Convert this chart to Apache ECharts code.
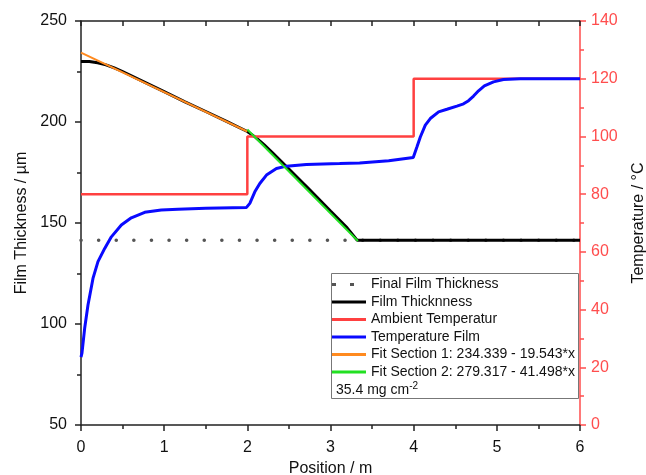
<!DOCTYPE html>
<html>
<head>
<meta charset="utf-8">
<script src="https://cdn.jsdelivr.net/npm/echarts@6/dist/echarts.min.js"></script>
<style>
  html, body { margin: 0; padding: 0; background: #fff; }
  #main { width: 646px; height: 475px; }
</style>
</head>
<body>
<div id="main"></div>
<script>
// film thickness (left axis, µm)
var filmPos = [0, 0.1, 0.2, 0.3, 0.4, 0.5, 0.75, 1, 1.25, 1.5, 1.75, 2, 2.1, 2.2, 2.3, 2.5, 2.75, 3, 3.2, 3.32, 6];
var filmThickness = [230, 229.9, 229.3, 228.3, 226.8, 225, 220, 215, 210, 205.2, 200.3, 195.3, 192.4, 188.8, 184.9, 176.7, 166.4, 155.9, 147.6, 141.5, 141.5];

var finalPos = [0, 6];
var finalThickness = [141.5, 141.5];

var fit1Pos = [0, 2];
var fit1Val = [234.3, 195.3];
var fit2Pos = [2, 3.33];
var fit2Val = [196.3, 141.1];

// temperatures (right axis, °C)
var ambientPos = [0, 2, 2, 4, 4, 6];
var ambientTemp = [80, 80, 100, 100, 120, 120];

var tempPos = [0, 0.012, 0.044, 0.084, 0.144, 0.204, 0.285, 0.365, 0.485, 0.605, 0.766, 0.965, 1.166, 1.5, 1.99, 2.03, 2.09, 2.15, 2.23, 2.35, 2.47, 2.71, 3.11, 3.35, 3.7, 3.995, 4.04, 4.08, 4.14, 4.2, 4.3, 4.4, 4.52, 4.6, 4.66, 4.72, 4.78, 4.85, 4.96, 5.08, 5.28, 6];
var tempFilm = [23.5, 25, 33.5, 41.6, 50.8, 56.6, 61.2, 65.2, 69.3, 71.8, 73.7, 74.5, 74.8, 75.1, 75.4, 76.8, 80.8, 83.7, 86.6, 88.9, 89.7, 90.3, 90.6, 90.8, 91.6, 92.7, 96.4, 99.8, 103.9, 106.2, 108.5, 109.4, 110.5, 111.3, 112.4, 114, 115.8, 117.5, 118.9, 119.7, 120, 120];

var xTicks = [0, 1, 2, 3, 4, 5, 6];
var leftTicks = [50, 100, 150, 200, 250];
var rightTicks = [0, 20, 40, 60, 80, 100, 120, 140];

function pairs(xs, ys) {
  return xs.map(function (x, i) { return [x, ys[i]]; });
}

var font = 'Liberation Sans, Arial, sans-serif';
var axisRed = '#ff4d4d';
var lineIcon = 'rect';
var dotIcon = 'path://M0,0h4v3h-4zM18,0h4v3h-4zM34,3';

var chart = echarts.init(document.getElementById('main'));
var option = {
  animation: false,
  backgroundColor: '#fff',
  textStyle: { fontFamily: font },
  grid: { left: 81, right: 66, top: 21, bottom: 50, outerBoundsMode: 'none' },
  xAxis: [
    {
      type: 'value',
      min: xTicks[0], max: xTicks[xTicks.length - 1], interval: 1,
      name: 'Position / m', nameLocation: 'middle', nameGap: 35,
      nameTextStyle: { fontSize: 16, color: '#111', fontFamily: font },
      axisLine: { lineStyle: { color: '#222', width: 1.5 } },
      axisTick: { inside: false, length: 6, lineStyle: { color: '#222', width: 1.5 } },
      minorTick: { show: true, splitNumber: 2, length: 4, lineStyle: { color: '#222', width: 1.5 } },
      axisLabel: { fontSize: 16, color: '#111', margin: 15, fontFamily: font },
      splitLine: { show: false }
    },
    {
      type: 'value', position: 'top',
      min: 0, max: 6, interval: 0.5,
      axisLine: { show: true, onZero: false, lineStyle: { color: '#222', width: 1.5 } },
      axisTick: { inside: true, length: 5, lineStyle: { color: '#222', width: 1.5 } },
      axisLabel: { show: false },
      splitLine: { show: false }
    }
  ],
  yAxis: [
    {
      type: 'value',
      min: leftTicks[0], max: leftTicks[leftTicks.length - 1], interval: 50,
      name: 'Film Thickness / µm', nameLocation: 'middle', nameGap: 48, nameRotate: 90,
      nameTextStyle: { fontSize: 16, color: '#111', fontFamily: font },
      axisLine: { show: true, onZero: false, lineStyle: { color: '#222', width: 1.5 } },
      axisTick: { show: true, length: 6, lineStyle: { color: '#222', width: 1.5 } },
      minorTick: { show: true, splitNumber: 2, length: 4, lineStyle: { color: '#222', width: 1.5 } },
      axisLabel: { fontSize: 16, color: '#111', margin: 14, fontFamily: font },
      splitLine: { show: false }
    },
    {
      type: 'value', position: 'right',
      min: rightTicks[0], max: rightTicks[rightTicks.length - 1], interval: 20,
      name: 'Temperature / °C', nameLocation: 'middle', nameGap: 51, nameRotate: 90,
      nameTextStyle: { fontSize: 16, color: '#111', fontFamily: font },
      axisLine: { show: true, onZero: false, lineStyle: { color: axisRed, width: 1.5 } },
      axisTick: { show: true, length: 6, lineStyle: { color: axisRed, width: 1.5 } },
      minorTick: { show: true, splitNumber: 2, length: 4, lineStyle: { color: axisRed, width: 1.5 } },
      axisLabel: { fontSize: 16, color: axisRed, margin: 11, fontFamily: font },
      splitLine: { show: false }
    }
  ],
  legend: {
    orient: 'vertical',
    left: 332, top: 277.5,
    itemWidth: 34, itemHeight: 3, itemGap: 3.5,
    itemTextGap: 1,
    symbolKeepAspect: false,
    padding: 0,
    itemStyle: { borderWidth: 0 },
    textStyle: { fontSize: 14, lineHeight: 14, color: '#111', fontFamily: font },
    data: [
      { name: 'Final Film Thickness', icon: dotIcon },
      { name: 'Film Thicknness', icon: lineIcon },
      { name: 'Ambient Temperatur', icon: lineIcon },
      { name: 'Temperature Film', icon: lineIcon },
      { name: 'Fit Section 1: 234.339 - 19.543*x', icon: lineIcon },
      { name: 'Fit Section 2: 279.317 - 41.498*x', icon: lineIcon }
    ]
  },
  graphic: [
    {
      type: 'rect', z: 100,
      shape: { x: 331.5, y: 273.5, width: 247, height: 125 },
      style: { fill: null, stroke: '#777', lineWidth: 1 }
    },
    {
      type: 'text', z: 101, left: 336, top: 381,
      style: {
        text: '{a|35.4 mg cm}{b|-2}',
        rich: {
          a: { fontSize: 14, fontFamily: font, fill: '#111' },
          b: { fontSize: 10, fontFamily: font, fill: '#111', verticalAlign: 'top', padding: [0, 0, 8, 0] }
        }
      }
    }
  ],
  series: [
    {
      name: 'Final Film Thickness', type: 'line', symbol: 'none',
      xAxisIndex: 0, yAxisIndex: 0, z: 1,
      data: pairs(finalPos, finalThickness),
      lineStyle: { color: '#555', width: 3.5, type: [0.1, 17.5], cap: 'round' },
      itemStyle: { color: '#555' }
    },
    {
      name: 'Film Thicknness', type: 'line', symbol: 'none',
      xAxisIndex: 0, yAxisIndex: 0, z: 2,
      data: pairs(filmPos, filmThickness),
      lineStyle: { color: '#000', width: 3 },
      itemStyle: { color: '#000' }
    },
    {
      name: 'Ambient Temperatur', type: 'line', symbol: 'none',
      xAxisIndex: 0, yAxisIndex: 1, z: 3,
      data: pairs(ambientPos, ambientTemp),
      lineStyle: { color: '#ff4040', width: 2.5 },
      itemStyle: { color: '#ff4040' }
    },
    {
      name: 'Temperature Film', type: 'line', symbol: 'none',
      xAxisIndex: 0, yAxisIndex: 1, z: 4,
      data: pairs(tempPos, tempFilm),
      lineStyle: { color: '#0a0aff', width: 3 },
      itemStyle: { color: '#0a0aff' }
    },
    {
      name: 'Fit Section 1: 234.339 - 19.543*x', type: 'line', symbol: 'none',
      xAxisIndex: 0, yAxisIndex: 0, z: 5,
      data: pairs(fit1Pos, fit1Val),
      lineStyle: { color: '#ff8a1f', width: 2 },
      itemStyle: { color: '#ff8a1f' }
    },
    {
      name: 'Fit Section 2: 279.317 - 41.498*x', type: 'line', symbol: 'none',
      xAxisIndex: 0, yAxisIndex: 0, z: 5,
      data: pairs(fit2Pos, fit2Val),
      lineStyle: { color: '#22e022', width: 2 },
      itemStyle: { color: '#22e022' }
    }
  ]
};
chart.setOption(option);
</script>
</body>
</html>
